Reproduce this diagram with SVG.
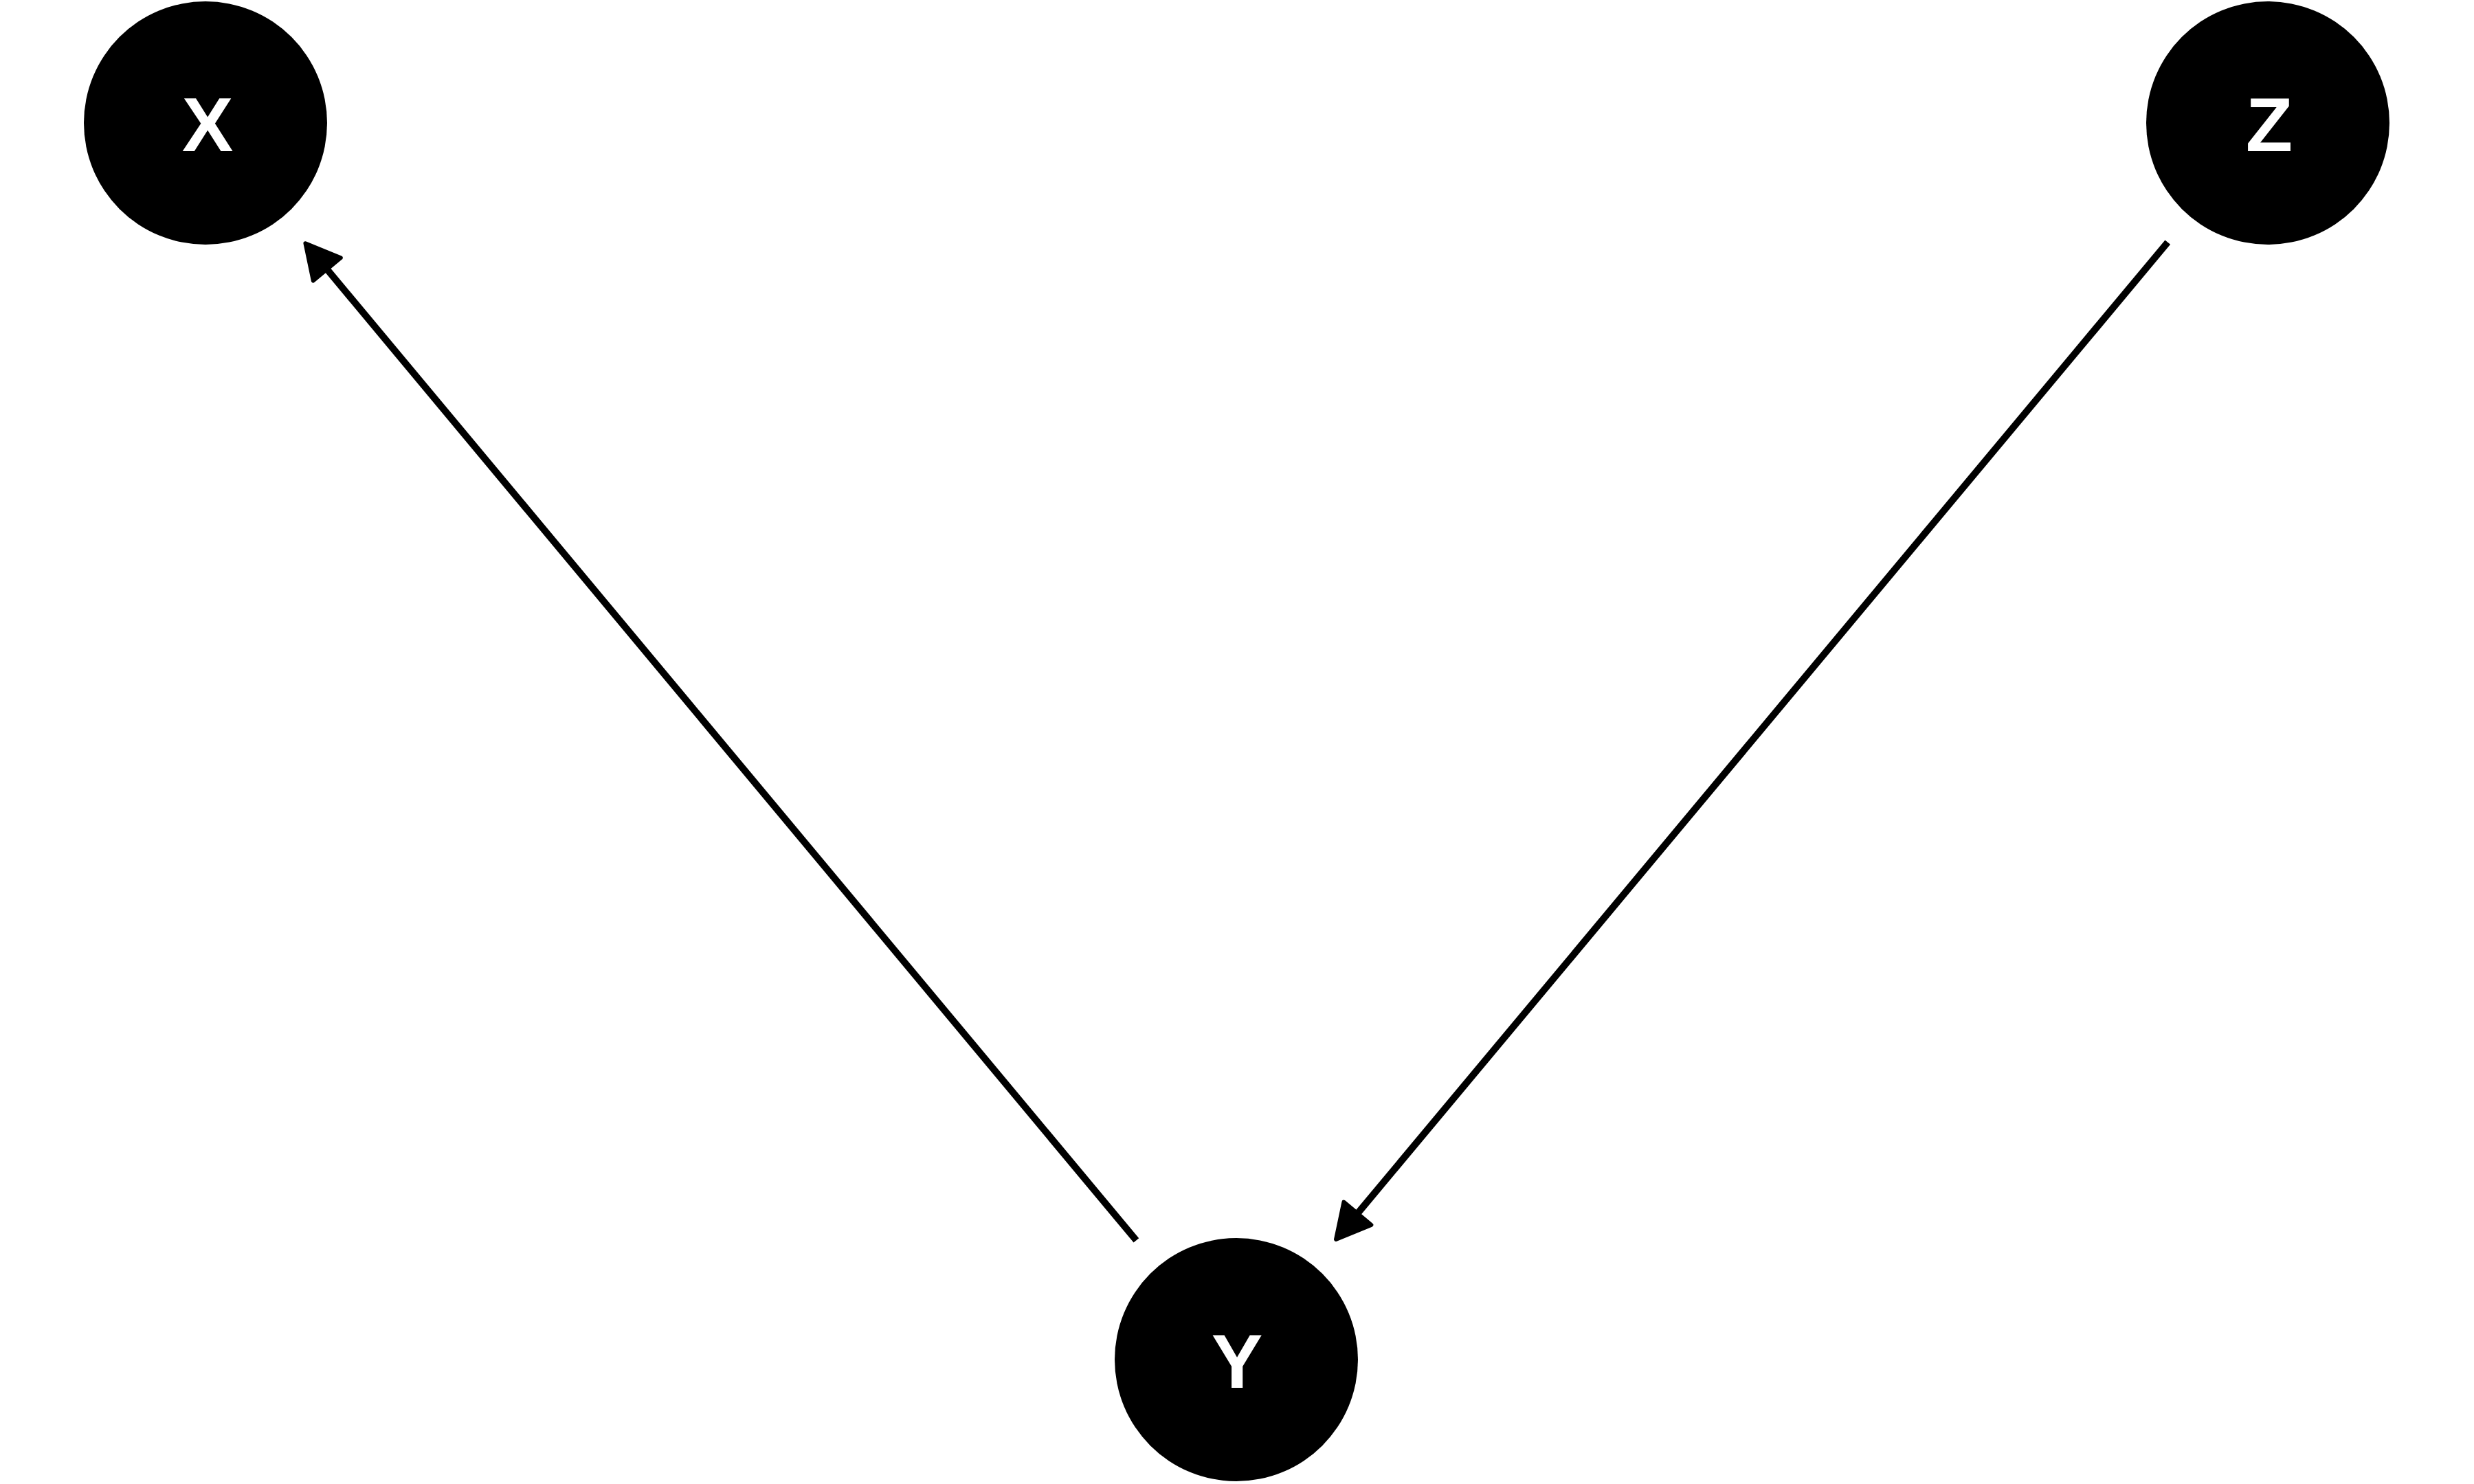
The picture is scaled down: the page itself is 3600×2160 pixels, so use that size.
<svg xmlns="http://www.w3.org/2000/svg" width="3600" height="2160" viewBox="0 0 3600 2160">
  <style>
    .node { fill: #000000; }
    .label { fill: #ffffff; font-family: "Liberation Sans", Arial, sans-serif; font-weight: bold; font-size: 112px; text-anchor: middle; }
    .edge { stroke: #000000; stroke-width: 10; fill: none; stroke-linecap: butt; }
  </style>
  <defs>
    <marker id="arrow" markerUnits="userSpaceOnUse" orient="auto" refX="0" refY="0" markerWidth="80" markerHeight="80" overflow="visible">
      <path d="M0,-26 L49,0 L0,26 Z" fill="#000000" stroke="#000000" stroke-width="6" stroke-linejoin="round"/>
    </marker>
  </defs>
  <rect x="0" y="0" width="3600" height="2160" fill="#ffffff"/>
  <g id="connectors">
    <line id="edge-Y-X" class="edge" x1="1653.4" y1="1805.4" x2="475.8" y2="391.9" marker-end="url(#arrow)"/>
    <line id="edge-Z-Y" class="edge" x1="3154.3" y1="352.6" x2="1975.4" y2="1766.3" marker-end="url(#arrow)"/>
  </g>
  <g id="node-X">
    <circle class="node" cx="299" cy="179" r="177"/>
    <text class="label" x="302" y="220">X</text>
  </g>
  <g id="node-Y">
    <circle class="node" cx="1799" cy="1979" r="177"/>
    <text class="label" x="1800" y="2020">Y</text>
  </g>
  <g id="node-Z">
    <circle class="node" cx="3300" cy="179" r="177"/>
    <text class="label" x="3302" y="220">Z</text>
  </g>
</svg>
